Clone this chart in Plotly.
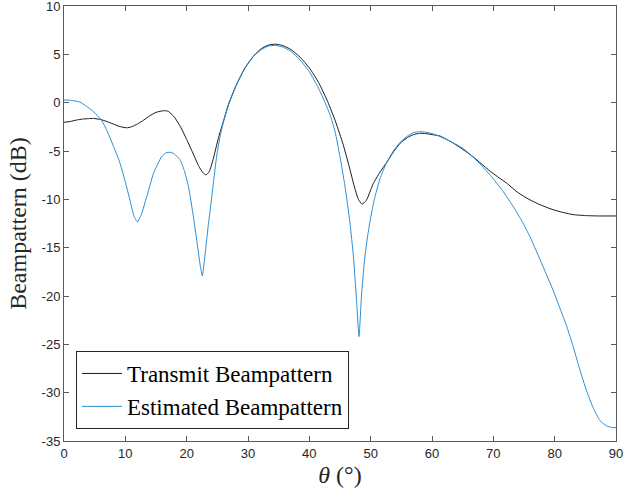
import plotly.graph_objects as go

# Transmit beampattern (black)
theta_tx = [0, 1, 2, 3, 4, 4.8, 6, 7, 8, 9, 10.2, 11, 12, 13, 14, 15, 16, 16.5, 17, 18,
            19, 20, 21, 22, 22.6, 23.15, 23.7, 24.3, 25.2, 26, 26.8, 28, 29.5, 31, 32.2,
            33.3, 34.5, 35.7, 37, 38.5, 40, 41.5, 43, 44.3, 45.5, 46.5, 47.3, 48, 48.6,
            49.3, 50.4, 51.5, 52.6, 53.7, 54.8, 56, 57, 58, 59, 60, 61.3, 63.5, 65.4,
            66.7, 68, 69.5, 71, 72.2, 74, 75.8, 77.6, 79.4, 81, 83, 85, 87, 90]
gain_tx = [-2.03, -1.95, -1.8, -1.7, -1.65, -1.63, -1.75, -1.95, -2.2, -2.45, -2.6, -2.5,
           -2.2, -1.8, -1.35, -1.0, -0.85, -0.83, -0.9, -1.5, -2.5, -3.8, -5.2, -6.6,
           -7.2, -7.48, -7.1, -5.9, -3.6, -1.9, -0.2, 1.7, 3.6, 4.9, 5.6, 5.95, 6.05,
           5.9, 5.5, 4.7, 3.6, 2.1, 0.1, -2.0, -4.3, -6.6, -8.6, -10.0, -10.5, -10.1,
           -8.4, -7.2, -6.2, -5.1, -4.2, -3.6, -3.3, -3.17, -3.2, -3.3, -3.45, -4.2,
           -5.0, -5.6, -6.3, -7.1, -7.8, -8.34, -9.3, -10.0, -10.55, -11.0, -11.3,
           -11.58, -11.68, -11.72, -11.72]

# Estimated beampattern (blue)
theta_est = [0, 1, 2, 2.6, 3.5, 4.8, 6.1, 7, 8, 9, 10, 10.76, 11.4, 11.96, 12.6, 13.5,
             14.6, 15.9, 16.6, 17.3, 18, 18.9, 19.6, 20.3, 21.1, 21.7, 22.2, 22.55, 22.9,
             23.5, 23.8, 24.3, 24.9, 25.5, 26, 26.8, 28, 29.5, 31, 32.2, 33.3, 34.5, 35.7,
             37, 38.5, 40, 41.5, 42.5, 43.4, 44.2, 45, 45.8, 46.6, 47.2, 47.7, 48.1, 48.5,
             49, 49.5, 50, 50.6, 51.5, 52.6, 53.7, 54.8, 56, 57, 58, 59, 60, 61.3, 63,
             65.1, 67.3, 69.5, 71.5, 73.3, 74.7, 76, 78, 79.8, 81, 82, 83, 84.1, 85.2,
             86.3, 87.4, 88.5, 89.3, 90]
gain_est = [0.28, 0.25, 0.15, 0.05, -0.3, -0.93, -1.8, -2.9, -4.4, -6.0, -8.2, -10.1,
            -11.7, -12.34, -11.6, -9.7, -7.3, -5.6, -5.2, -5.13, -5.3, -5.9, -7.0, -8.7,
            -11.8, -14.5, -16.8, -17.93, -16.3, -12.8, -11.3, -8.6, -5.5, -3.3, -2.0,
            -0.3, 1.65, 3.55, 4.85, 5.5, 5.85, 5.92, 5.75, 5.3, 4.4, 3.2, 1.5, 0.1, -1.3,
            -3.0, -5.6, -8.6, -12.3, -16.0, -20.5, -24.2, -20.0, -16.3, -13.8, -11.9,
            -10.0, -7.9, -6.2, -5.0, -4.1, -3.45, -3.1, -3.0, -3.05, -3.2, -3.5, -4.0,
            -4.75, -6.0, -7.5, -9.1, -10.8, -12.3, -13.9, -16.8, -19.5, -21.5, -23.2,
            -25.2, -27.6, -29.8, -31.6, -32.9, -33.45, -33.6, -33.62]

x_ticks = [0, 10, 20, 30, 40, 50, 60, 70, 80, 90]
x_labels = ["0", "10", "20", "30", "40", "50", "60", "70", "80", "90"]
y_ticks = [10, 5, 0, -5, -10, -15, -20, -25, -30, -35]
y_labels = ["10", "5", "0", "-5", "-10", "-15", "-20", "-25", "-30", "-35"]

serif = "Liberation Serif"
sans = "Liberation Sans"
axis_col = "#5a5a5a"

fig = go.Figure()
fig.add_trace(go.Scatter(x=theta_tx, y=gain_tx, mode="lines", name="Transmit Beampattern",
                         line=dict(color="#1a1a1a", width=1, shape="spline", smoothing=0.5)))
fig.add_trace(go.Scatter(x=theta_est, y=gain_est, mode="lines", name="Estimated Beampattern",
                         line=dict(color="#2b8fd4", width=1, shape="spline", smoothing=0.5)))

fig.update_layout(
    width=625, height=499,
    margin=dict(l=64, r=9, t=6, b=58),
    plot_bgcolor="white", paper_bgcolor="white",
    showlegend=True,
    legend=dict(x=0.0217, y=0.0276, xanchor="left", yanchor="bottom",
                bordercolor="#262626", borderwidth=1, bgcolor="white",
                font=dict(family=serif, size=23, color="#000000"),
                tracegroupgap=0, itemwidth=40),
    xaxis=dict(range=[0, 90], tickvals=x_ticks, ticktext=x_labels, ticks="inside", ticklen=5,
               tickcolor=axis_col, showline=True, linecolor=axis_col, linewidth=1,
               mirror="ticks", showgrid=False, zeroline=False, ticklabeloverflow="allow",
               automargin=False,
               tickfont=dict(family=sans, size=13, color="#262626"),
               title=dict(text="<i>θ</i> (°)", font=dict(family=serif, size=24, color="#262626"),
                          standoff=6)),
    yaxis=dict(range=[-35, 10], tickvals=y_ticks, ticktext=y_labels, ticks="inside", ticklen=5,
               tickcolor=axis_col, showline=True, linecolor=axis_col, linewidth=1,
               mirror="ticks", showgrid=False, zeroline=False, ticklabeloverflow="allow",
               automargin=False,
               tickfont=dict(family=sans, size=13, color="#262626"),
               title=dict(text="Beampattern (dB)", font=dict(family=serif, size=24, color="#262626"),
                          standoff=8)),
)

fig.write_html("out.html")
